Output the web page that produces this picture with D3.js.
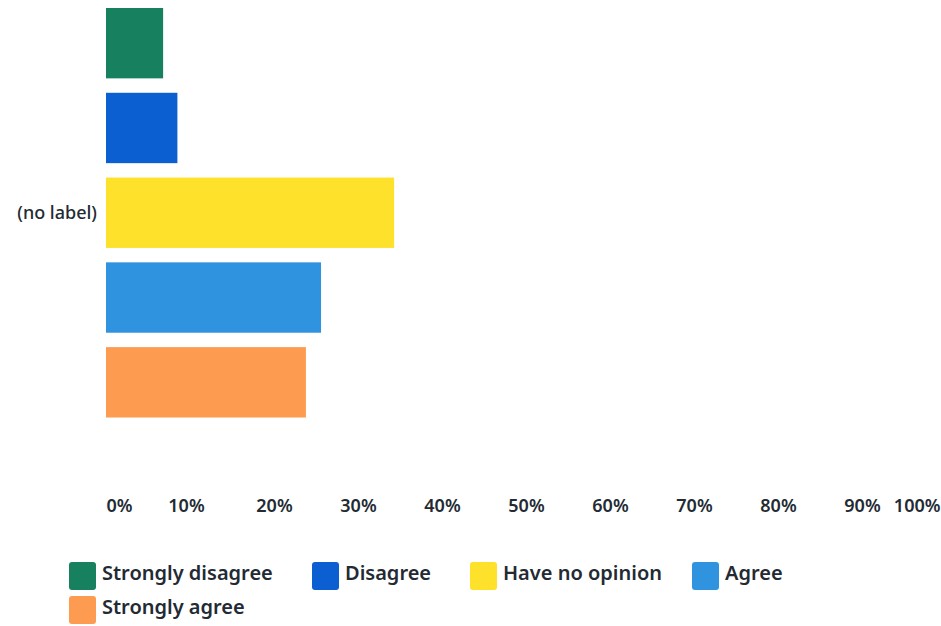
<!DOCTYPE html>
<html>
<head>
<meta charset="utf-8">
<script src="https://cdn.jsdelivr.net/npm/d3@7"></script>
<style>
  body { margin: 0; background: #fff; }
  svg text { font-family: "Noto Sans", sans-serif; fill: #232a33; }
</style>
</head>
<body>
<svg id="chart"></svg>
<script>
// data
const rowLabel = "(no label)";
const answers = ["Strongly disagree", "Disagree", "Have no opinion", "Agree", "Strongly agree"];
const percents = [6.8, 8.5, 34.3, 25.6, 23.8];
const colors = ["#17805e", "#0b5fd0", "#fde12a", "#2f93e0", "#fd9b50"];
const ticks = [0, 10, 20, 30, 40, 50, 60, 70, 80, 90, 100];

const width = 941, height = 626;

const svg = d3.select("#chart")
    .attr("width", width)
    .attr("height", height);

const x = d3.scaleLinear()
    .domain([0, 100])
    .range([106, 946]);

const y = d3.scaleBand()
    .domain(answers)
    .range([8, 417.5])
    .paddingInner(0.17)
    .paddingOuter(0);

// bars
svg.append("g").selectAll("rect")
    .data(answers)
    .join("rect")
    .attr("x", x(0))
    .attr("y", d => y(d))
    .attr("width", (d, i) => x(percents[i]) - x(0))
    .attr("height", y.bandwidth())
    .attr("fill", (d, i) => colors[i]);

// row label
svg.append("text")
    .attr("x", 97)
    .attr("y", (y(answers[0]) + y(answers[4]) + y.bandwidth()) / 2)
    .attr("dy", "0.35em")
    .attr("text-anchor", "end")
    .style("font-size", "18px")
    .style("font-weight", 500)
    .text(rowLabel);

// x axis (labels only)
const xAxis = d3.axisBottom(x)
    .tickValues(ticks)
    .tickFormat(d => d + "%")
    .tickSize(0)
    .tickPadding(0);

const gx = svg.append("g")
    .attr("transform", "translate(0,499)")
    .call(xAxis);
gx.select(".domain").remove();
gx.selectAll("text")
    .style("font-size", "18px")
    .style("font-weight", 600)
    .style("font-family", "'Noto Sans', sans-serif")
    .attr("fill", "#232a33")
    .attr("text-anchor", d => d === 0 ? "start" : d === 100 ? "end" : "middle")
    .attr("dx", d => d === 0 ? 0 : d === 100 ? -(x(100) - 940) : d === 10 ? -4 : 0);

// legend
const legendPos = [
    { x: 69, y: 562 }, { x: 312, y: 562 }, { x: 470, y: 562 }, { x: 692, y: 562 },
    { x: 69, y: 596 }
];
const legend = svg.append("g").selectAll("g")
    .data(answers)
    .join("g")
    .attr("transform", (d, i) => `translate(${legendPos[i].x},${legendPos[i].y})`);

legend.append("rect")
    .attr("width", 27)
    .attr("height", 28)
    .attr("rx", 3)
    .attr("fill", (d, i) => colors[i]);

legend.append("text")
    .attr("x", 33)
    .attr("y", 18)
    .style("font-size", "20px")
    .style("font-weight", 600)
    .text(d => d);
</script>
</body>
</html>
